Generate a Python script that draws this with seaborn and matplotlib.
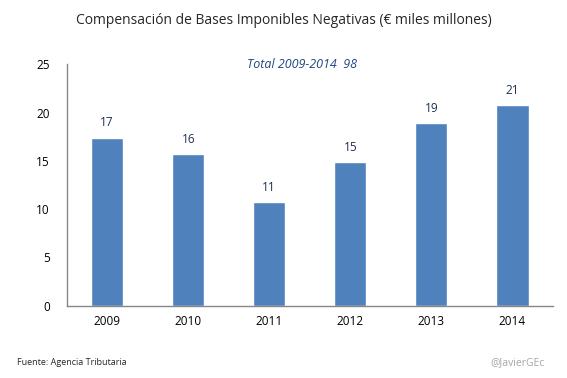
import matplotlib
matplotlib.use("Agg")
import matplotlib.pyplot as plt
import seaborn as sns
import pandas as pd

years = ["2009", "2010", "2011", "2012", "2013", "2014"]
values = [17.4, 15.7, 10.7, 14.85, 18.9, 20.8]
labels = [str(round(v)) for v in values]
total = round(sum(values))

df = pd.DataFrame({"Año": years, "Compensación": values})

sns.set_style("white")
plt.rcParams["font.family"] = ["Open Sans", "DejaVu Sans"]

fig = plt.figure(figsize=(5.67, 3.78), dpi=100)
ax = fig.add_axes([0.1176, 0.1913, 0.8574, 0.6386])

sns.barplot(data=df, x="Año", y="Compensación", color="#4F81BD", saturation=1,
            width=0.4, ax=ax)

ax.set_ylim(0, 25)
ax.set_xlim(-0.5, 5.5)
ax.set_yticks([0, 5, 10, 15, 20, 25])
ax.set_xlabel("")
ax.set_ylabel("")
ax.tick_params(axis="both", length=0, labelsize=8.5, colors="#000000")
ax.tick_params(axis="y", pad=12)
ax.tick_params(axis="x", pad=7)
sns.despine(ax=ax)
for s in ["left", "bottom"]:
    ax.spines[s].set_color("#878787")
    ax.spines[s].set_linewidth(1)

ax.bar_label(ax.containers[0], labels=labels, padding=6, fontsize=8.5, color="#1F2F4F")

fig.text(0.5, 0.945, "Compensación de Bases Imponibles Negativas (€ miles millones)",
         ha="center", va="center", fontsize=10)
ax.text(0.484, 1.0, f"Total 2009-2014  {total}", transform=ax.transAxes, ha="center",
        va="center", fontsize=9, style="italic", color="#1F497D")
fig.text(0.03, 0.04, "Fuente: Agencia Tributaria", ha="left", va="center", fontsize=6.5)
fig.text(0.96, 0.04, "@JavierGEc", ha="right", va="center", fontsize=7.5, color="#A6A6A6")

fig.savefig("out.png", dpi=100)
